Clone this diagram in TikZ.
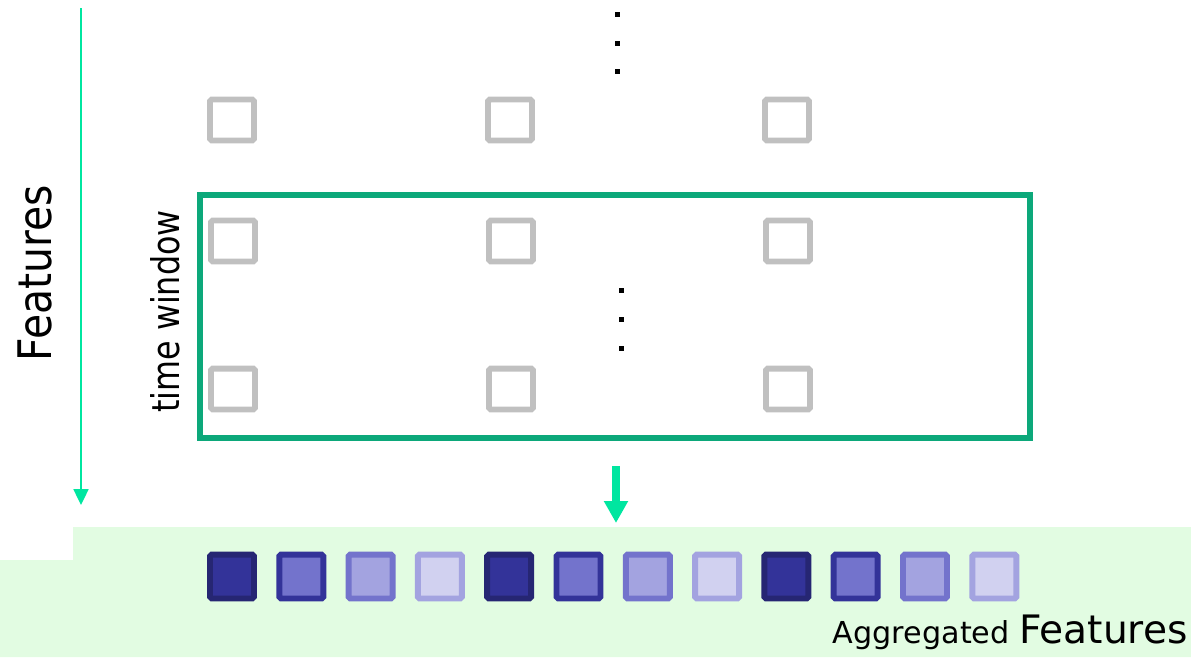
\documentclass[tikz,border=0pt]{standalone}
\usepackage{fontspec}
\setmainfont{DejaVu Sans}
\usetikzlibrary{arrows.meta, positioning, calc}

\definecolor{cellgray}{HTML}{C0C0C0}
\definecolor{wingreen}{HTML}{0CA87A}
\definecolor{mint}{HTML}{00E6A0}
\definecolor{aggbg}{HTML}{E2FCE2}
\definecolor{aggA}{HTML}{333399}
\definecolor{aggB}{HTML}{7373CC}
\definecolor{aggC}{HTML}{A3A3E0}
\definecolor{aggD}{HTML}{D1D1F0}
\definecolor{aggE}{HTML}{262673}

\begin{document}
\begin{tikzpicture}[
    x=0.02cm, y=-0.02cm,
    cell/.style={rectangle, draw=cellgray, line width=3.4pt, rounded corners=1pt, minimum width=0.88cm, minimum height=0.82cm, inner sep=0pt},
    aggcell/.style={rectangle, line width=3.4pt, rounded corners=1pt, minimum size=0.88cm, inner sep=0pt},
    winbox/.style={rectangle, draw=wingreen, line width=3.2pt, minimum width=16.6cm, minimum height=4.86cm, inner sep=0pt},
    axis/.style={draw=mint, line width=1.1pt, -{Triangle[width=8.5pt, length=9pt]}},
    bigarrow/.style={draw=mint, line width=4.6pt, -{Triangle[width=13pt, length=12.5pt]}},
    vdot/.style={fill=black}
]
\useasboundingbox (0,0) rectangle (1191,657);

% light green band under the aggregated row
\fill[aggbg] (73,527) -- (1191,527) -- (1191,657) -- (0,657) -- (0,560) -- (73,560) -- cycle;

% feature axis
\coordinate (ftop) at (81,8);
\coordinate (fbot) at (81,505);
\path [axis] (ftop) -- (fbot);
\node [rotate=90, inner sep=0pt] (feat) at (35,273) {\fontsize{23.3}{28}\selectfont\scalebox{1}[1.13]{Features}};

% grid of feature cells
\node [cell] (c11) at (232,120) {};
\node [cell] (c12) at (510,120) {};
\node [cell] (c13) at (787,120) {};
\node [cell] (c21) at (233,241) {};
\node [cell] (c22) at (511,241) {};
\node [cell] (c23) at (788,241) {};
\node [cell] (c31) at (233,389) {};
\node [cell] (c32) at (511,389) {};
\node [cell] (c33) at (788,389) {};

\foreach \y in {14.5,43,71.5}
    \fill [vdot] (614.5,\y-2.5) rectangle (619.5,\y+2.5);
\foreach \y in {290,319,348}
    \fill [vdot] (618.5,\y-2.5) rectangle (623.5,\y+2.5);

% time window
\node [winbox] (window) at (615,316.5) {};
\node [rotate=90, inner sep=0pt] (twin) at (165,311.5) {\fontsize{18.1}{22}\selectfont\scalebox{1}[1.2]{time window}};

\coordinate (wout) at (616,466);
\coordinate (ain) at (616,523);
\path [bigarrow] (wout) -- (ain);

% aggregated features
\foreach \i/\f/\b in {0/aggA/aggE, 1/aggB/aggA, 2/aggC/aggB, 3/aggD/aggC,
                      4/aggA/aggE, 5/aggB/aggA, 6/aggC/aggB, 7/aggD/aggC,
                      8/aggA/aggE, 9/aggB/aggA, 10/aggC/aggB, 11/aggD/aggC}
    \node [aggcell, fill=\f, draw=\b] (agg\i) at (232+69.3*\i,576.5) {};

\node [anchor=base east, inner sep=0pt] (aggtxt) at (1188,643) {\fontsize{17.2}{20}\selectfont Aggregated {\fontsize{22.3}{26}\selectfont Features}};
\end{tikzpicture}
\end{document}
